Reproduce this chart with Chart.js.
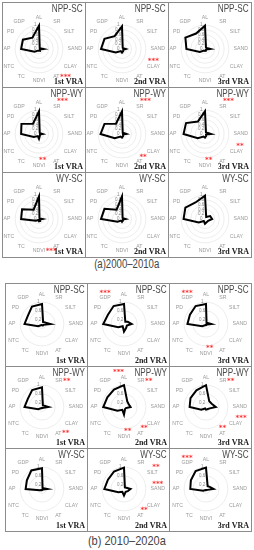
<!DOCTYPE html>
<html>
<head>
<meta charset="utf-8">
<script src="https://cdn.jsdelivr.net/npm/chart.js@4.4.1/dist/chart.umd.min.js"></script>
<style>
  body { margin: 0; background: #fff; width: 254px; height: 550px; position: relative; overflow: hidden; }
  .cell { position: absolute; border: 1px solid #8c8c8c; box-sizing: border-box; }
  .cell canvas { position: absolute; }
  .title { position: absolute; right: 2px; top: -1px; font: 11px "Liberation Sans", sans-serif; color: #4a4a4a; transform: scaleX(0.74); transform-origin: right top; white-space: nowrap; }
  .vra { position: absolute; right: 2px; bottom: 1px; font: bold 8px "Liberation Serif", serif; color: #222; }
  .cap { position: absolute; left: 0; width: 254px; text-align: center; font-family: "Liberation Sans", sans-serif; color: #444; }
  .cap span { display: inline-block; }
</style>
</head>
<body>
<div class="cap" style="top:257px;font-size:12px;"><span style="transform:scaleX(0.8)">(a)2000–2010a</span></div>
<div class="cap" style="top:533px;font-size:13px;"><span style="transform:scaleX(0.85)">(b) 2010–2020a</span></div>
<script>
// axes clockwise from the top
const axes = ['AL', 'SR', 'SILT', 'SAND', 'CLAY', 'AT', 'NDVI', 'TC', 'NTC', 'AP', 'PD', 'GDP'];
const pairs = ['NPP-SC', 'NPP-WY', 'WY-SC'];
const zones = ['1st VRA', '2nd VRA', '3rd VRA'];
const tickValues = [0, 0.2, 0.4, 0.6, 0.8, 1];

// (a) 2000-2010a, one array per VRA
const a_NPP_SC = [
  [0.98, 0.06, 0.06, 0.18, 0.04, 0.08, 0.06, 0.08, 0.22, 0.75, 0.78, 0.55],
  [0.95, 0.06, 0.06, 0.15, 0.06, 0.10, 0.15, 0.10, 0.30, 0.88, 0.85, 0.62],
  [0.98, 0.08, 0.08, 0.22, 0.05, 0.08, 0.08, 0.08, 0.25, 0.78, 0.95, 0.75]
];
const a_NPP_WY = [
  [0.95, 0.06, 0.06, 0.15, 0.05, 0.08, 0.20, 0.10, 0.25, 0.75, 0.85, 0.50],
  [0.95, 0.06, 0.08, 0.18, 0.05, 0.10, 0.15, 0.12, 0.35, 0.90, 0.85, 0.50],
  [0.95, 0.08, 0.10, 0.25, 0.05, 0.10, 0.15, 0.12, 0.35, 0.90, 0.92, 0.60]
];
const a_WY_SC = [
  [0.95, 0.04, 0.05, 0.15, 0.05, 0.10, 0.10, 0.05, 0.15, 0.75, 0.82, 0.45],
  [0.95, 0.05, 0.06, 0.15, 0.05, 0.08, 0.12, 0.08, 0.22, 0.88, 0.85, 0.45],
  [0.98, 0.10, 0.25, 0.30, 0.15, 0.15, 0.20, 0.10, 0.30, 0.90, 0.95, 0.80]
];
// (b) 2010-2020a
const b_NPP_SC = [
  [0.92, 0.10, 0.15, 0.40, 0.08, 0.08, 0.05, 0.05, 0.20, 0.80, 0.75, 0.92],
  [0.92, 0.12, 0.20, 0.35, 0.15, 0.20, 0.35, 0.12, 0.30, 0.95, 0.85, 0.95],
  [0.92, 0.05, 0.10, 0.25, 0.05, 0.05, 0.05, 0.05, 0.20, 0.85, 0.85, 0.95]
];
const b_NPP_WY = [
  [0.90, 0.08, 0.12, 0.30, 0.08, 0.05, 0.05, 0.05, 0.20, 0.80, 0.75, 0.90],
  [1.00, 0.30, 0.25, 0.30, 0.10, 0.10, 0.35, 0.15, 0.35, 0.95, 0.88, 0.92],
  [1.00, 0.30, 0.30, 0.45, 0.15, 0.12, 0.12, 0.08, 0.25, 0.75, 0.82, 0.88]
];
const b_WY_SC = [
  [0.95, 0.05, 0.08, 0.25, 0.05, 0.05, 0.05, 0.05, 0.12, 0.75, 0.80, 0.98],
  [0.98, 0.08, 0.12, 0.30, 0.20, 0.15, 0.30, 0.15, 0.30, 0.90, 0.85, 0.92],
  [0.98, 0.15, 0.20, 0.35, 0.08, 0.05, 0.05, 0.05, 0.15, 0.72, 0.80, 0.95]
];

// significance marks: [axis, mark, where]
const a_stars = [
  [[['AT', '***', 'right']], [['CLAY', '***', 'above']], []],
  [[['SR', '***', 'aboveRight'], ['NDVI', '**', 'aboveRight']],
   [['SR', '***', 'aboveRight'], ['AT', '**', 'aboveRight']],
   [['SR', '***', 'aboveRight'], ['CLAY', '**', 'aboveRight'], ['NDVI', '**', 'aboveRight']]],
  [[['NDVI', '***', 'right']], [], []]
];
const b_stars = [
  [[], [['GDP', '***', 'above']], [['GDP', '***', 'above'], ['NDVI', '**', 'aboveRight']]],
  [[['SR', '**', 'right'], ['AT', '**', 'right']],
   [['AL', '***', 'aboveLeft'], ['SR', '**', 'right'], ['AT', '**', 'aboveRight'], ['NDVI', '**', 'aboveRight']],
   [['SR', '**', 'right'], ['CLAY', '***', 'aboveRight'], ['AT', '**', 'above']]],
  [[], [['SILT', '**', 'aboveRight'], ['SAND', '***', 'above'], ['AT', '**', 'aboveRight']], [['GDP', '***', 'above']]]
];

const starPlugin = {
    id: 'stars',
    afterDraw(chart) {
        const marks = chart.options.plugins.stars.marks || [];
        const scale = chart.scales.r;
        const ctx = chart.ctx;
        ctx.save();
        ctx.fillStyle = '#ff3030';
        ctx.font = 'bold 7px "DejaVu Sans", sans-serif';
        ctx.textBaseline = 'middle';
        marks.forEach(([name, mark, where]) => {
            const p = scale.getPointLabelPosition(axes.indexOf(name));
            const midX = (p.left + p.right) / 2, midY = (p.top + p.bottom) / 2;
            if (where === 'right') { ctx.textAlign = 'left'; ctx.fillText(mark, p.right + 0.5, midY); }
            else if (where === 'above') { ctx.textAlign = 'center'; ctx.fillText(mark, midX, p.top - 2); }
            else if (where === 'aboveRight') { ctx.textAlign = 'left'; ctx.fillText(mark, midX, p.top - 2); }
            else { ctx.textAlign = 'right'; ctx.fillText(mark, midX, p.top - 2); }
        });
        ctx.restore();
    }
};

function drawRadar(canvas, values, marks) {
    new Chart(canvas, {
        type: 'radar',
        data: { labels: axes, datasets: [{ data: values, borderColor: '#000', borderWidth: 2, pointRadius: 0, fill: false, tension: 0 }] },
        options: {
            responsive: false, animation: false, events: [],
            layout: { padding: { top: 5 } },
            plugins: { legend: { display: false }, tooltip: { enabled: false }, stars: { marks: marks } },
            scales: {
                r: {
                    min: 0, max: 1,
                    angleLines: { display: false },
                    grid: { circular: true, color: '#e0e0e0', lineWidth: 0.6 },
                    afterBuildTicks: s => { s.ticks = [{ value: 0 }].concat(tickValues.map(v => ({ value: v }))); },
                    ticks: { font: { size: 4.5, family: 'Liberation Sans' }, color: '#8a8a8a', showLabelBackdrop: false, callback: v => v + '      ' },
                    pointLabels: { font: { size: 5.2, family: 'Liberation Sans' }, color: '#9a9a9a', padding: 0.5 }
                }
            }
        },
        plugins: [starPlugin]
    });
}

function buildGrid(xs, ys, box, sets, stars) {
    sets.forEach((rowVals, r) => {
        rowVals.forEach((vals, c) => {
            const cell = document.createElement('div');
            cell.className = 'cell';
            cell.style.left = xs[c] + 'px';
            cell.style.top = ys[r] + 'px';
            cell.style.width = (xs[c + 1] - xs[c] + 1) + 'px';
            cell.style.height = (ys[r + 1] - ys[r] + 1) + 'px';
            const cv = document.createElement('canvas');
            cv.width = box.w; cv.height = box.h;
            cv.style.left = box.x + 'px';
            cv.style.top = box.y + 'px';
            cell.appendChild(cv);
            const t = document.createElement('div');
            t.className = 'title'; t.textContent = pairs[r];
            cell.appendChild(t);
            const v = document.createElement('div');
            v.className = 'vra'; v.textContent = zones[c];
            cell.appendChild(v);
            document.body.appendChild(cell);
            drawRadar(cv, vals, stars[r][c]);
        });
    });
}

buildGrid([2, 85, 168, 251], [2, 87, 172, 257], { x: -2, y: 5, w: 85, h: 77 }, [a_NPP_SC, a_NPP_WY, a_WY_SC], a_stars);
buildGrid([5, 87, 169, 251], [283, 366, 448, 531], { x: -1, y: 2, w: 82, h: 71 }, [b_NPP_SC, b_NPP_WY, b_WY_SC], b_stars);
</script>
</body>
</html>
